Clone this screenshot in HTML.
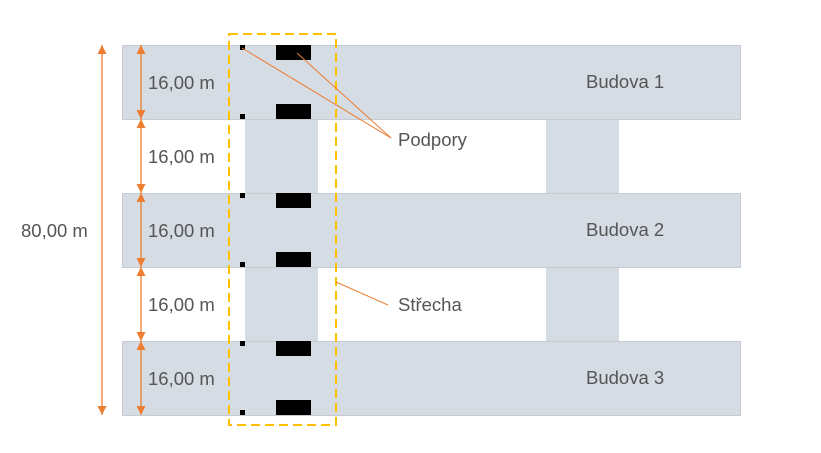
<!DOCTYPE html>
<html><head><meta charset="utf-8"><style>
html,body{margin:0;padding:0;background:#fff;}
svg{display:block;}
text{font-family:"Liberation Sans",sans-serif;fill:#555;font-size:18.5px;}
</style></head><body>
<svg width="821" height="453" viewBox="0 0 821 453" xmlns="http://www.w3.org/2000/svg">
<defs>
<marker id="a" viewBox="0 0 10 10" refX="10" refY="5" markerWidth="7" markerHeight="7" orient="auto-start-reverse"><path d="M0,0 L10,5 L0,10 z" fill="#ed7d31"/></marker>
</defs>
<rect x="245" y="119" width="73" height="74" fill="#d6dce4"/>
<rect x="245" y="267" width="73" height="74" fill="#d6dce4"/>
<rect x="546" y="119" width="73" height="74" fill="#d6dce4"/>
<rect x="546" y="267" width="73" height="74" fill="#d6dce4"/>
<rect x="122.5" y="45.5" width="618" height="74" fill="#d6dce4" stroke="#c8ccd2"/>
<rect x="122.5" y="193.5" width="618" height="74" fill="#d6dce4" stroke="#c8ccd2"/>
<rect x="122.5" y="341.5" width="618" height="74" fill="#d6dce4" stroke="#c8ccd2"/>
<text x="586" y="88">Budova 1</text>
<text x="586" y="236">Budova 2</text>
<text x="586" y="384">Budova 3</text>
<g fill="#000">
<rect x="240" y="45" width="5" height="5"/><rect x="240" y="114" width="5" height="5"/>
<rect x="276" y="45" width="35" height="15"/><rect x="276" y="104" width="35" height="15"/>
<rect x="240" y="193" width="5" height="5"/><rect x="240" y="262" width="5" height="5"/>
<rect x="276" y="193" width="35" height="15"/><rect x="276" y="252" width="35" height="15"/>
<rect x="240" y="341" width="5" height="5"/><rect x="240" y="410" width="5" height="5"/>
<rect x="276" y="341" width="35" height="15"/><rect x="276" y="400" width="35" height="15"/>
</g>
<rect x="229" y="34" width="107" height="391" fill="none" stroke="#ffc000" stroke-width="2" stroke-dasharray="9,5"/>
<g stroke="#ed7d31" stroke-width="1">
<line x1="242" y1="48" x2="391" y2="138"/>
<line x1="297" y1="53" x2="391" y2="138"/>
<line x1="336" y1="282" x2="388" y2="305"/>
</g>
<text x="398" y="146">Podpory</text>
<text x="398" y="311">Střecha</text>
<g stroke="#ed7d31" stroke-width="1.3" fill="none">
<line x1="102" y1="45" x2="102" y2="415" marker-start="url(#a)" marker-end="url(#a)"/>
<line x1="141" y1="45" x2="141" y2="119" marker-start="url(#a)" marker-end="url(#a)"/>
<line x1="141" y1="119" x2="141" y2="193" marker-start="url(#a)" marker-end="url(#a)"/>
<line x1="141" y1="193" x2="141" y2="267" marker-start="url(#a)" marker-end="url(#a)"/>
<line x1="141" y1="267" x2="141" y2="341" marker-start="url(#a)" marker-end="url(#a)"/>
<line x1="141" y1="341" x2="141" y2="415" marker-start="url(#a)" marker-end="url(#a)"/>
</g>
<text x="148" y="89">16,00 m</text>
<text x="148" y="163">16,00 m</text>
<text x="148" y="237">16,00 m</text>
<text x="148" y="311">16,00 m</text>
<text x="148" y="385">16,00 m</text>
<text x="21" y="237">80,00 m</text>
</svg>
</body></html>
